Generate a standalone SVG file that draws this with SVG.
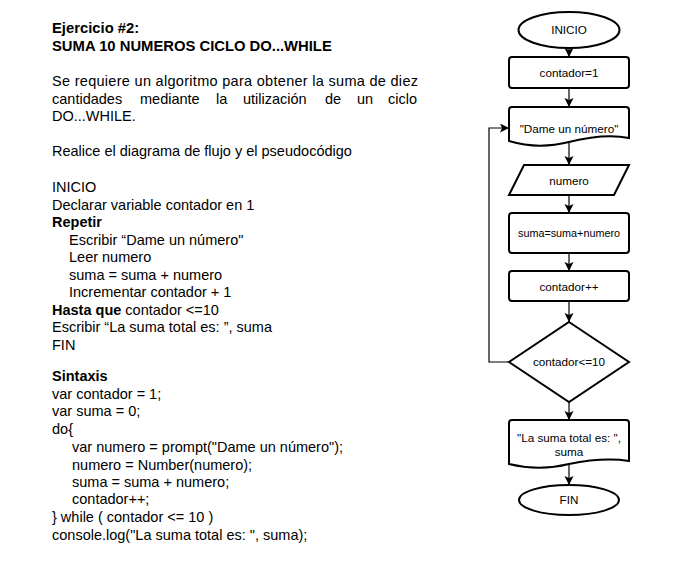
<svg xmlns="http://www.w3.org/2000/svg" width="700" height="570" viewBox="0 0 700 570">
<style>
.t{font-family:"Liberation Sans",Arial,sans-serif;font-size:14.5px;fill:#000}
.b{font-weight:bold}
.h{font-size:14.8px}
.n{font-family:"Liberation Sans",Arial,sans-serif;font-size:11.7px;fill:#000;text-anchor:middle}
.s{fill:#fff;stroke:#000;stroke-width:2}
.c{fill:none;stroke:#000;stroke-width:1.2}
</style>
<defs>
<marker id="ah" markerUnits="userSpaceOnUse" markerWidth="10" markerHeight="10" refX="9" refY="4.5" orient="auto">
<path d="M0,0 L9,4.5 L0,9 L2,4.5 Z" fill="#000"/>
</marker>
</defs>
<rect width="700" height="570" fill="#fff"/>
<g id="text">
<text class="t b h" x="52" y="33">Ejercicio #2:</text>
<text class="t b h" x="52" y="51">SUMA 10 NUMEROS CICLO DO...WHILE</text>
<text class="t" x="52" y="86" textLength="366" lengthAdjust="spacing">Se requiere un algoritmo para obtener la suma de diez</text>
<text class="t" y="104"><tspan x="52">cantidades</tspan><tspan x="140">mediante</tspan><tspan x="216">la</tspan><tspan x="243">utilización</tspan><tspan x="325">de</tspan><tspan x="357">un</tspan><tspan x="388">ciclo</tspan></text>
<text class="t" x="52" y="121">DO...WHILE.</text>
<text class="t" x="52" y="156">Realice el diagrama de flujo y el pseudocódigo</text>
<text class="t" x="52" y="192">INICIO</text>
<text class="t" x="52" y="210">Declarar variable contador en 1</text>
<text class="t b" x="52" y="227">Repetir</text>
<text class="t" x="69" y="245">Escribir “Dame un número"</text>
<text class="t" x="69" y="262">Leer numero</text>
<text class="t" x="69" y="280">suma = suma + numero</text>
<text class="t" x="69" y="297">Incrementar contador + 1</text>
<text class="t" x="52" y="315"><tspan class="b">Hasta que</tspan> contador &lt;=10</text>
<text class="t" x="52" y="332">Escribir “La suma total es: ”, suma</text>
<text class="t" x="52" y="350">FIN</text>
<text class="t b" x="52" y="381">Sintaxis</text>
<text class="t" x="52" y="399">var contador = 1;</text>
<text class="t" x="52" y="416">var suma = 0;</text>
<text class="t" x="52" y="434">do{</text>
<text class="t" x="72" y="452">var numero = prompt("Dame un número");</text>
<text class="t" x="72" y="470">numero = Number(numero);</text>
<text class="t" x="72" y="487">suma = suma + numero;</text>
<text class="t" x="72" y="504">contador++;</text>
<text class="t" x="52" y="522">} while ( contador &lt;= 10 )</text>
<text class="t" x="52" y="540">console.log("La suma total es: ", suma);</text>
</g>
<g id="connectors">
<line class="c" x1="569" y1="48" x2="569" y2="57" marker-end="url(#ah)"/>
<line class="c" x1="569" y1="88" x2="569" y2="107" marker-end="url(#ah)"/>
<line class="c" x1="569" y1="142" x2="569" y2="165" marker-end="url(#ah)"/>
<line class="c" x1="569" y1="195" x2="569" y2="213" marker-end="url(#ah)"/>
<line class="c" x1="569" y1="253" x2="569" y2="271" marker-end="url(#ah)"/>
<line class="c" x1="569" y1="301" x2="569" y2="322" marker-end="url(#ah)"/>
<line class="c" x1="569" y1="402" x2="569" y2="420" marker-end="url(#ah)"/>
<line class="c" x1="569" y1="465" x2="569" y2="485" marker-end="url(#ah)"/>
<path class="c" d="M509,362 H489 V128 H509" marker-end="url(#ah)"/>
</g>
<g id="inicio">
<ellipse class="s" cx="569" cy="30" rx="50.5" ry="18"/>
<text class="n" x="569" y="34">INICIO</text>
</g>
<g id="contador1">
<rect class="s" x="509" y="57" width="120" height="31" rx="3"/>
<text class="n" x="569" y="77">contador=1</text>
</g>
<g id="dame">
<path class="s" d="M512,107 H626 Q629,107 629,110 V138 C609,134 589,137 569,142 C549,147 529,147 509,141 V110 Q509,107 512,107 Z"/>
<text class="n" x="569" y="133">"Dame un número"</text>
</g>
<g id="numero">
<path class="s" d="M524,165 H629 L614,195 H509 Z"/>
<text class="n" x="569" y="185">numero</text>
</g>
<g id="suma">
<rect class="s" x="509" y="213" width="120" height="40" rx="3"/>
<text class="n" x="569" y="237" style="font-size:10.8px">suma=suma+numero</text>
</g>
<g id="contadorpp">
<rect class="s" x="509" y="271" width="120" height="30" rx="3"/>
<text class="n" x="569" y="291">contador++</text>
</g>
<g id="cond">
<path class="s" d="M569,322 L629,362 L569,402 L509,362 Z"/>
<text class="n" x="569" y="366">contador&lt;=10</text>
</g>
<g id="salida">
<path class="s" d="M512,420 H626 Q629,420 629,423 V461 C609,458 589,460 569,464 C549,469 529,469 509,464 V423 Q509,420 512,420 Z"/>
<text class="n" x="569" y="442">"La suma total es: ",</text>
<text class="n" x="569" y="456">suma</text>
</g>
<g id="fin">
<ellipse class="s" cx="569" cy="500" rx="50" ry="15"/>
<text class="n" x="569" y="504">FIN</text>
</g>
</svg>
